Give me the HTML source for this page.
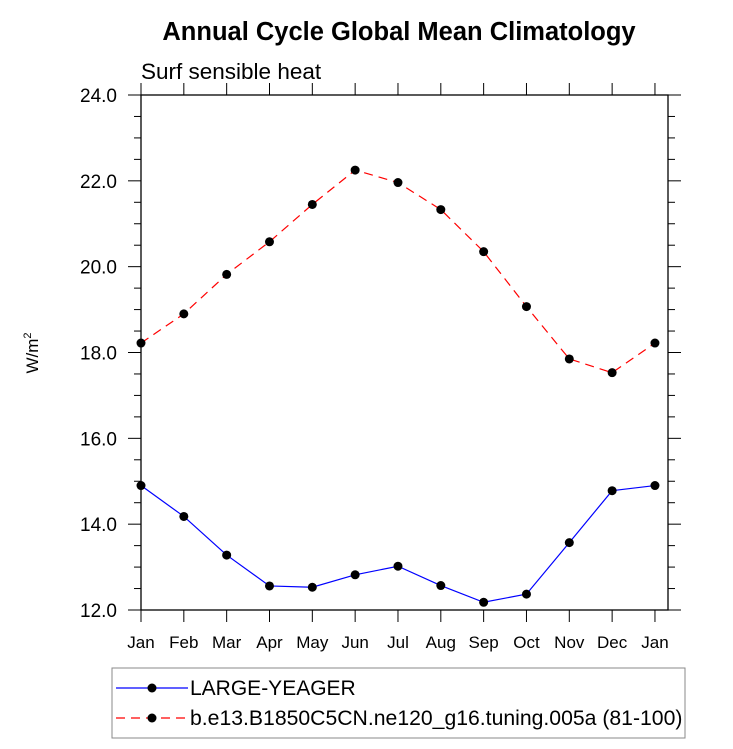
<!DOCTYPE html>
<html><head><meta charset="utf-8"><style>
body{margin:0;background:#fff}
svg{font-family:"Liberation Sans",sans-serif}
</style></head><body>
<svg width="733" height="744" viewBox="0 0 733 744">
<text x="399" y="40" text-anchor="middle" font-size="25.5" font-weight="bold">Annual Cycle Global Mean Climatology</text>
<text x="141" y="79" font-size="22.5">Surf sensible heat</text>
<text transform="translate(38,353) rotate(-90)" text-anchor="middle" font-size="17">W/m<tspan font-size="11" dy="-7">2</tspan></text>
<g id="axes"></g>
<g id="series"></g>
<g>
<rect x="112" y="668" width="573" height="70" fill="#fff" stroke="#888" stroke-width="1"/>
<line x1="116" y1="688" x2="188" y2="688" stroke="#00f" stroke-width="1.2"/>
<circle cx="152" cy="688" r="4.5" fill="#000"/>
<text x="190" y="695" font-size="21">LARGE-YEAGER</text>
<line x1="116" y1="718" x2="188" y2="718" stroke="#f00" stroke-width="1.2" stroke-dasharray="9,6"/>
<circle cx="152" cy="718" r="4.5" fill="#000"/>
<text x="190" y="725" font-size="21.2">b.e13.B1850C5CN.ne120_g16.tuning.005a (81-100)</text>
</g>
</svg>
<script>
const months=["Jan","Feb","Mar","Apr","May","Jun","Jul","Aug","Sep","Oct","Nov","Dec","Jan"];
const yTicks=[12,14,16,18,20,22,24];
const largeYeager=[14.9,14.18,13.28,12.56,12.53,12.82,13.02,12.57,12.18,12.37,13.57,14.78,14.9];
const tuning005a=[18.22,18.9,19.82,20.58,21.45,22.25,21.96,21.33,20.35,19.07,17.85,17.53,18.22];
const L=141,R=668,T=95,B=610,step=42.83;
const xs=i=>L+i*step, ys=v=>B-(v-12)/12*(B-T);
const NS="http://www.w3.org/2000/svg";
function mk(t,a,p){const e=document.createElementNS(NS,t);for(const k in a)e.setAttribute(k,a[k]);p.appendChild(e);return e;}
const ax=document.getElementById('axes');
const box=mk('rect',{x:L,y:T,width:R-L,height:B-T,fill:'none',stroke:'#000','stroke-width':1.3},ax);


months.forEach((m,i)=>{
 const x=xs(i);
 mk('line',{x1:x,y1:B,x2:x,y2:B+12,stroke:'#000'},ax);
 mk('line',{x1:x,y1:T,x2:x,y2:T-12,stroke:'#000'},ax);
 const t=mk('text',{x:x,y:B+38,'text-anchor':'middle','font-size':17},ax);
 t.textContent=m;
 
 
});
for(let v=12;v<=24;v+=0.5){
 const y=ys(v),maj=Math.abs(v%2)<1e-6,len=maj?13:7;
 mk('line',{x1:L,y1:y,x2:L-len,y2:y,stroke:'#000'},ax);
 mk('line',{x1:R,y1:y,x2:R+len,y2:y,stroke:'#000'},ax);
}
yTicks.forEach(v=>{
 const t=mk('text',{x:L-24,y:ys(v)+7,'text-anchor':'end','font-size':19},ax);
 t.textContent=v.toFixed(1);
 
 
});
const sg=document.getElementById('series');
function draw(vals,color,dash,name){
 const pl=mk('polyline',{points:vals.map((v,i)=>xs(i)+','+ys(v)).join(' '),fill:'none',stroke:color,'stroke-width':1.2},sg);
 if(dash)pl.setAttribute('stroke-dasharray',dash);
 
 
 vals.forEach((v,i)=>{
  const c=mk('circle',{cx:xs(i),cy:ys(v),r:4.5,fill:'#000'},sg);
  
  
 });
}
draw(largeYeager,'#00f',null,'large-yeager');
draw(tuning005a,'#f00','9,6','tuning-005a');
</script>
</body></html>
